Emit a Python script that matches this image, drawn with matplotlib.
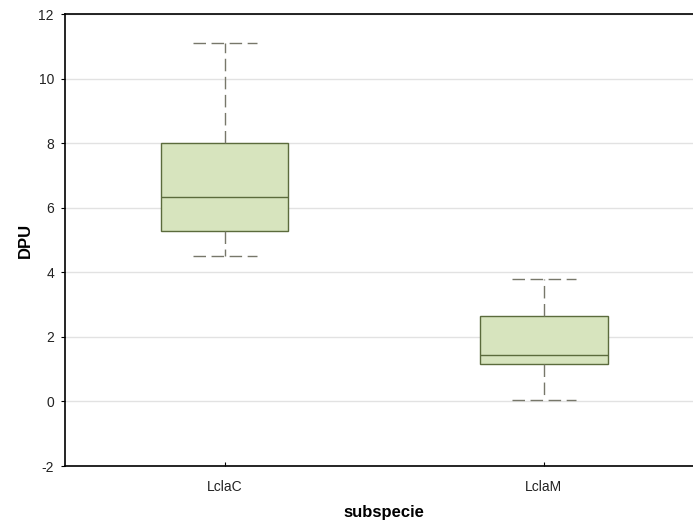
import matplotlib.pyplot as plt

plt.rcParams['font.family'] = ['Liberation Sans', 'DejaVu Sans']
plt.rcParams['axes.unicode_minus'] = False

groups = ['LclaC', 'LclaM']
whislo = [4.5, 0.04]
q1 = [5.28, 1.16]
med = [6.33, 1.44]
q3 = [8.0, 2.64]
whishi = [11.1, 3.79]

stats = []
for i, g in enumerate(groups):
    stats.append({'label': g, 'whislo': whislo[i], 'q1': q1[i], 'med': med[i],
                  'q3': q3[i], 'whishi': whishi[i], 'fliers': []})

fig = plt.figure(figsize=(6.93, 5.2), dpi=100)
ax = fig.add_axes([65 / 693, 1 - 466 / 520, 638.5 / 693, 452 / 520])

edge = '#5b6b3c'
dash = '#77776a'
ax.bxp(stats, positions=[1, 2], widths=0.4, patch_artist=True,
       boxprops=dict(facecolor='#d7e4be', edgecolor=edge, linewidth=1.0),
       medianprops=dict(color=edge, linewidth=1.0),
       whiskerprops=dict(color=dash, linewidth=1.0, linestyle=(0, (9, 4))),
       capprops=dict(color=dash, linewidth=1.0, linestyle=(0, (9, 4))),
       capwidths=0.2, zorder=3)

ax.set_xlim(0.5, 2.5)
ax.set_ylim(-2, 12)
ax.set_yticks(range(-2, 13, 2))
ax.yaxis.grid(True, color='#e2e2e2', linewidth=1.0, zorder=0)
ax.set_axisbelow(True)
for s in ['top', 'bottom', 'left']:
    ax.spines[s].set_linewidth(1.2)
    ax.spines[s].set_color('black')
ax.spines['right'].set_visible(False)

ax.tick_params(axis='y', direction='out', length=3, labelsize=10, pad=5,
               labelcolor='#222222')
ax.tick_params(axis='x', direction='in', length=3, labelsize=10, pad=10,
               labelcolor='#222222')

ax.set_xlabel('subspecie', fontsize=12, fontweight='bold', labelpad=8)
ax.set_ylabel('DPU', fontsize=12, fontweight='bold', labelpad=4)

fig.savefig('out.png', dpi=100)
